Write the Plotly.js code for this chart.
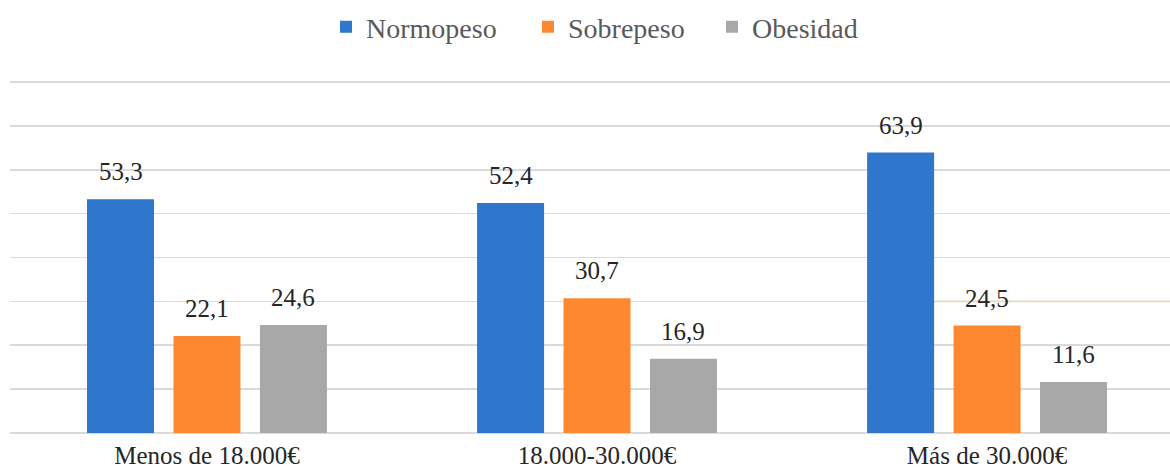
<!DOCTYPE html>
<html>
<head>
<meta charset="utf-8">
<script src="https://cdn.plot.ly/plotly-3.0.1.min.js"></script>
<style>
  html, body { margin: 0; padding: 0; background: #ffffff; }
  #chart { width: 1170px; height: 468px; }
</style>
</head>
<body>
<div id="chart"></div>
<script>
// Income brackets and weight-status shares (%)
const categories = ['Menos de 18.000€', '18.000-30.000€', 'Más de 30.000€'];
const normopeso = [53.3, 52.4, 63.9];
const sobrepeso = [22.1, 30.7, 24.5];
const obesidad = [24.6, 16.9, 11.6];
const seriesNames = ['Normopeso', 'Sobrepeso', 'Obesidad'];
const seriesValues = [normopeso, sobrepeso, obesidad];
const seriesColors = ['#2e77cc', '#fd8830', '#a8a8a8'];
const yTicks = [0, 10, 20, 30, 40, 50, 60, 70, 80];

const serif = 'Liberation Serif';
const BARGAP = 0.335;
const GROUPGAP = 0.225;
const slot = (1 - BARGAP) / seriesNames.length;
const barWidth = slot * (1 - GROUPGAP);

const fmt = v => v.toFixed(1).replace('.', ',');

const legendWidths = [157, 139, 120];
const traces = seriesNames.map((name, j) => ({
  type: 'bar',
  name: name,
  x: categories,
  y: seriesValues[j],
  marker: { color: seriesColors[j] },
  legendwidth: legendWidths[j],
  hoverinfo: 'x+y+name'
}));

// Value labels above each bar
const annotations = [];
seriesValues.forEach((vals, j) => {
  vals.forEach((v, i) => {
    annotations.push({
      x: i + (j - (seriesNames.length - 1) / 2) * slot,
      y: v,
      xref: 'x', yref: 'y',
      text: fmt(v),
      showarrow: false,
      yanchor: 'bottom',
      yshift: 12,
      font: { family: serif, size: 25, color: '#262626' }
    });
  });
});

const xRange = [-0.505, 2.469];

const layout = {
  width: 1170,
  height: 468,
  margin: { l: 10, r: 0, t: 80, b: 35 },
  paper_bgcolor: '#ffffff',
  plot_bgcolor: '#ffffff',
  font: { family: serif },
  barmode: 'group',
  bargap: BARGAP,
  bargroupgap: GROUPGAP,
  showlegend: true,
  legend: {
    orientation: 'h',
    x: 0.2724, xanchor: 'left',
    y: 1.15, yanchor: 'middle',
    font: { family: serif, size: 28, color: '#595959' },
    bgcolor: 'rgba(0,0,0,0)',
    traceorder: 'normal'
  },
  xaxis: {
    type: 'category',
    categoryorder: 'array',
    categoryarray: categories,
    range: xRange,
    showgrid: false,
    showline: false,
    zeroline: false,
    ticks: '',
    ticklabelstandoff: 5,
    tickfont: { family: serif, size: 25, color: '#262626' },
    fixedrange: true
  },
  yaxis: {
    range: [0, 80.45],
    tickvals: yTicks,
    showticklabels: false,
    showgrid: true,
    gridcolor: '#dadada',
    gridwidth: 1.6,
    zeroline: true,
    zerolinecolor: '#dadada',
    zerolinewidth: 1.6,
    showline: false,
    ticks: '',
    fixedrange: true
  },
  shapes: [{
    type: 'line',
    xref: 'x', yref: 'y',
    x0: 2 - slot + barWidth / 2, x1: xRange[1],
    y0: 30, y1: 30,
    layer: 'between',
    line: { color: '#e4d8bf', width: 1.6 }
  }],
  annotations: annotations
};

Plotly.newPlot('chart', traces, layout, { displayModeBar: false, staticPlot: true });
</script>
</body>
</html>
